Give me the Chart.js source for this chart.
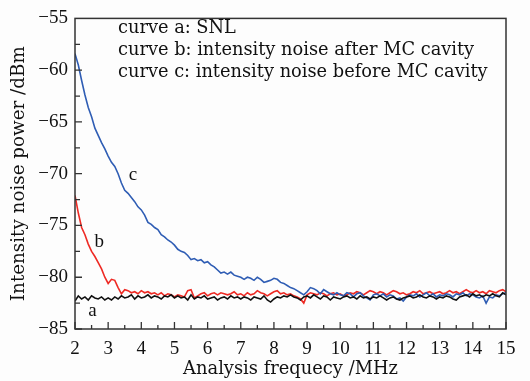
<!DOCTYPE html>
<html><head><meta charset="utf-8">
<script src="https://cdn.jsdelivr.net/npm/chart.js@4.4.1/dist/chart.umd.min.js"></script>
<style>html,body{margin:0;padding:0;background:#fdfdfd}</style>
</head><body>
<canvas id="c" width="530" height="381"></canvas>
<script>
// Frequency grid (MHz): 2.0 .. 15.0, step 0.1
const freqStart = 2, freqStep = 0.1;
// curve a: SNL (dBm)
const curveA = [-82.3,-81.8,-82.1,-81.9,-82.2,-81.8,-82.0,-82.1,-81.9,-82.2,
-82.0,-82.2,-81.9,-82.1,-81.8,-82.0,-81.9,-81.7,-82.1,-81.8,
-82.0,-81.9,-81.7,-82.0,-81.8,-81.9,-82.1,-81.8,-81.9,-81.7,
-82.0,-81.8,-82.0,-81.9,-82.2,-81.7,-82.1,-81.9,-82.0,-81.8,
-82.1,-82.0,-81.9,-82.2,-82.0,-81.9,-82.1,-81.8,-82.0,-81.9,
-82.1,-81.9,-82.0,-82.2,-81.9,-82.0,-82.1,-81.8,-82.2,-82.4,
-82.1,-81.9,-82.0,-81.8,-81.9,-81.7,-81.9,-82.0,-82.2,-81.9,
-81.8,-82.0,-81.7,-81.9,-82.1,-81.8,-81.9,-82.2,-81.9,-82.0,
-82.1,-81.9,-81.8,-82.0,-81.9,-82.1,-81.8,-82.0,-81.9,-82.1,
-81.9,-82.0,-81.8,-82.0,-82.2,-82.0,-81.9,-82.1,-82.2,-82.0,
-81.9,-81.8,-82.0,-81.9,-81.7,-81.9,-82.0,-81.8,-81.9,-82.1,
-81.9,-82.0,-81.8,-81.9,-82.1,-82.2,-81.9,-81.8,-81.7,-81.9,
-81.6,-81.8,-81.7,-81.9,-81.7,-81.8,-81.6,-81.8,-81.9,-81.5,-81.7];
// curve b: intensity noise after MC cavity (dBm)
const curveB = [-72.1,-73.8,-75.2,-75.9,-76.8,-77.5,-78.0,-78.6,-79.2,-80.0,
-80.6,-80.2,-80.3,-81.0,-81.6,-81.2,-81.3,-81.5,-81.4,-81.6,
-81.3,-81.5,-81.4,-81.6,-81.5,-81.7,-81.5,-81.8,-81.6,-81.7,
-81.9,-81.7,-81.8,-81.9,-81.3,-81.2,-82.0,-81.8,-81.6,-81.5,
-81.8,-81.6,-81.5,-81.7,-81.5,-81.6,-81.7,-81.6,-81.4,-81.7,
-81.6,-81.8,-81.5,-81.7,-81.6,-81.3,-81.5,-81.6,-81.8,-81.6,
-81.4,-81.3,-81.6,-81.5,-81.7,-81.6,-81.8,-81.9,-82.1,-82.5,
-81.7,-81.5,-81.6,-81.7,-81.5,-81.6,-81.8,-81.6,-81.5,-81.7,
-81.6,-81.8,-81.7,-81.5,-81.6,-81.4,-81.5,-81.7,-81.5,-81.3,
-81.4,-81.6,-81.4,-81.5,-81.7,-81.5,-81.3,-81.4,-81.6,-81.5,
-81.7,-81.6,-81.4,-81.5,-81.3,-81.6,-81.5,-81.4,-81.6,-81.5,
-81.4,-81.6,-81.5,-81.3,-81.5,-81.4,-81.6,-81.4,-81.2,-81.4,
-81.5,-81.3,-81.5,-81.4,-81.6,-81.3,-81.4,-81.5,-81.3,-81.2,-81.4];
// curve c: intensity noise before MC cavity (dBm)
const curveC = [-58.4,-59.5,-61.0,-62.4,-63.6,-64.5,-65.6,-66.3,-67.0,-67.6,
-68.3,-68.9,-69.3,-70.0,-70.9,-71.6,-71.9,-72.3,-72.7,-73.2,
-73.5,-74.0,-74.7,-74.9,-75.2,-75.4,-75.9,-76.1,-76.4,-76.6,
-76.9,-77.3,-77.5,-77.6,-77.9,-78.3,-78.2,-78.4,-78.3,-78.6,
-78.5,-78.8,-79.0,-79.3,-79.6,-79.5,-79.7,-79.5,-79.8,-79.9,
-80.0,-80.2,-80.0,-80.1,-80.3,-80.0,-80.2,-80.5,-80.4,-80.3,
-80.1,-80.2,-80.5,-80.6,-80.8,-81.0,-81.1,-81.3,-81.5,-81.7,
-81.4,-81.0,-81.1,-81.3,-81.6,-81.2,-81.4,-81.6,-81.7,-81.5,
-81.7,-81.8,-81.5,-81.6,-81.9,-81.6,-81.5,-81.8,-82.0,-82.2,
-81.7,-81.6,-81.8,-81.6,-81.9,-81.7,-81.8,-82.1,-82.0,-82.3,
-81.9,-81.7,-81.8,-81.6,-81.9,-81.7,-81.5,-81.8,-81.6,-81.9,
-81.7,-81.8,-81.6,-81.7,-81.9,-81.6,-81.7,-81.5,-81.8,-81.6,
-81.7,-81.9,-82.0,-81.8,-82.5,-81.9,-82.0,-81.7,-81.8,-81.6,-81.5];
const xTickValues = [2,3,4,5,6,7,8,9,10,11,12,13,14,15];
const yTickValues = [-85,-80,-75,-70,-65,-60,-55];
const noteLines = ["curve a: SNL","curve b: intensity noise after MC cavity","curve c: intensity noise before MC cavity"];
const xTitle = "Analysis frequecy /MHz";
const yTitle = "Intensity noise power /dBm";

const toXY = arr => arr.map((v,i)=>({x: +(freqStart + i*freqStep).toFixed(2), y: v}));

const SERIF = "'DejaVu Serif', serif";
const TICKF = "'Liberation Serif', serif";
const mctx = document.createElement('canvas').getContext('2d');
function fitSize(text, family, target){
  mctx.font = '100px ' + family;
  return 100 * target / mctx.measureText(text).width;
}
const noteSize = fitSize(noteLines[2], SERIF, 370);
const xTitleSize = fitSize(xTitle, SERIF, 215);
const yTitleSize = fitSize(yTitle, SERIF, 255);

const frameTicks = {
  id:'frameTicks',
  afterDatasetsDraw(chart){
    const {ctx, chartArea:a, scales:{x,y}} = chart;
    ctx.save();
    ctx.strokeStyle = '#333'; ctx.lineWidth = 1.5;
    ctx.strokeRect(a.left, a.top, a.right-a.left, a.bottom-a.top);
    ctx.lineWidth = 1.3;
    ctx.beginPath();
    for (let v = 2; v <= 15.001; v += 0.5){
      const px = x.getPixelForValue(v);
      const len = Math.abs(v - Math.round(v)) < 1e-6 ? 7 : 4;
      ctx.moveTo(px, a.bottom); ctx.lineTo(px, a.bottom - len);
    }
    for (let v = -85; v <= -55.001; v += 2.5){
      const py = y.getPixelForValue(v);
      const len = Math.abs(v/5 - Math.round(v/5)) < 1e-6 ? 7 : 5;
      ctx.moveTo(a.left, py); ctx.lineTo(a.left + len, py);
    }
    ctx.stroke();
    // curve letters
    ctx.fillStyle = '#111';
    ctx.font = '19px ' + TICKF;
    ctx.textAlign = 'center'; ctx.textBaseline = 'middle';
    ctx.fillText('c', x.getPixelForValue(3.75), y.getPixelForValue(-70.1));
    ctx.fillText('b', x.getPixelForValue(2.73), y.getPixelForValue(-76.6));
    ctx.fillText('a', x.getPixelForValue(2.53), y.getPixelForValue(-83.3));
    // notes
    ctx.font = noteSize.toFixed(2) + 'px ' + SERIF;
    ctx.textAlign = 'left'; ctx.textBaseline = 'alphabetic';
    const nx = a.left + 43;
    [33, 55, 77].forEach((yy,i)=> ctx.fillText(noteLines[i], nx, yy));
    ctx.restore();
  }
};

new Chart(document.getElementById('c'), {
  type: 'line',
  data: { datasets: [
    {label:'a', data: toXY(curveA), borderColor:'#111111', borderWidth:1.6, pointRadius:0, tension:0},
    {label:'c', data: toXY(curveC), borderColor:'#2f5db4', borderWidth:1.6, pointRadius:0, tension:0},
    {label:'b', data: toXY(curveB), borderColor:'#ee2a24', borderWidth:1.6, pointRadius:0, tension:0}
  ]},
  options: {
    responsive:false, animation:false, devicePixelRatio:1,
    layout:{padding:{left:0, top:14, right:24, bottom:0}},
    plugins:{legend:{display:false}, tooltip:{enabled:false}},
    scales:{
      x:{type:'linear', min:2, max:15,
        afterFit: s => { s.height = 52; },
        afterBuildTicks: s => { s.ticks = xTickValues.map(v=>({value:v})); },
        grid:{display:false, drawTicks:false}, border:{display:false},
        ticks:{color:'#111', padding:9, maxRotation:0, autoSkip:false, font:{family:TICKF, size:19}, callback:v=>String(v)},
        title:{display:true, text:xTitle, color:'#111', font:{family:SERIF, size:xTitleSize}, padding:{top:0,bottom:1}}
      },
      y:{type:'linear', min:-85, max:-55,
        afterFit: s => { s.width = 75; },
        afterBuildTicks: s => { s.ticks = yTickValues.map(v=>({value:v})); },
        grid:{display:false, drawTicks:false}, border:{display:false},
        ticks:{color:'#111', padding:7, autoSkip:false, font:{family:TICKF, size:19}, callback:v=>String(v).replace('-','\u2212')},
        title:{display:true, text:yTitle, color:'#111', font:{family:SERIF, size:yTitleSize}, padding:{top:8,bottom:0}}
      }
    }
  },
  plugins:[frameTicks]
});
</script>
</body></html>
